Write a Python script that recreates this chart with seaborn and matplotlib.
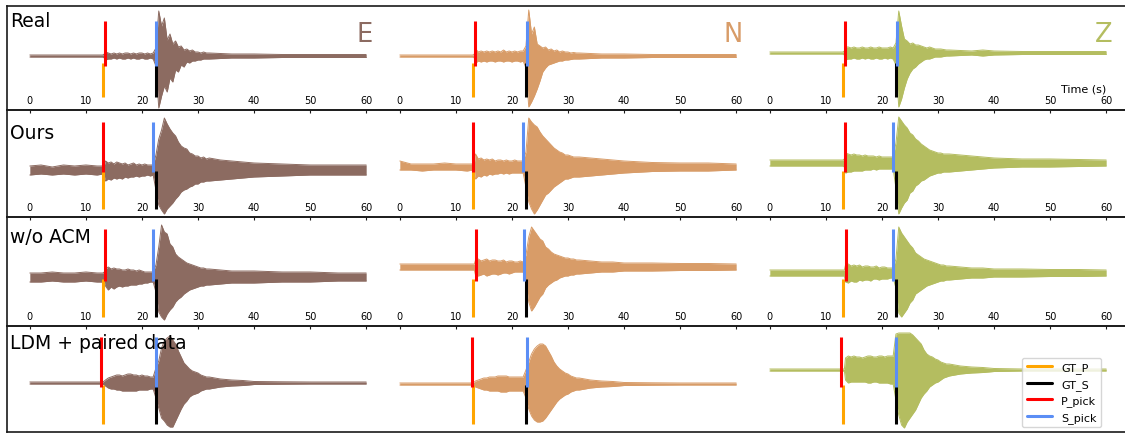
import numpy as np
import matplotlib
matplotlib.use("Agg")
import matplotlib.pyplot as plt
from matplotlib.lines import Line2D
import seaborn as sns

sns.set_style("white")
plt.rcParams["font.family"] = ["DejaVu Sans"]
plt.rcParams["text.color"] = "black"
plt.rcParams["xtick.color"] = "black"

# ---------------------------------------------------------------- data
rows = ["Real", "Ours", "w/o ACM", "LDM + paired data"]
components = ["E", "N", "Z"]
comp_colors = ["#8c6b61", "#d89c68", "#b4bd60"]
xticks = [0, 10, 20, 30, 40, 50, 60]

# time knots (s) of the amplitude envelopes
t_knots = [0, 2, 4, 6, 8, 10, 12, 13, 13.3,
           13.5, 14, 14.5, 15, 15.5, 16, 16.5, 17, 17.5, 18, 18.5, 19, 19.5,
           20, 20.5, 21, 21.5, 22, 22.5, 23, 23.5, 24, 24.5, 25, 25.5, 26,
           26.5, 27, 27.5, 28, 28.5, 29, 29.5, 30, 30.5, 31, 31.5, 32,
           34, 36, 38, 40, 45, 50, 55, 60]

# upper / lower envelope amplitudes, one pair per (row, component)
real_e_up = [1, 1, 1, 1, 1, 1, 1, 1, 2,
             4, 3, 2, 3, 2, 3, 2, 3, 3, 2, 3, 2, 3, 3, 2, 3, 2, 3,
             8, 45, 30, 38, 16, 22, 12, 15, 9, 10, 6, 7, 5, 6, 4, 4, 3, 4, 3, 3,
             2.5, 2, 2, 2, 1.5, 1.5, 1.5, 1.5]
real_e_lo = [1, 1, 1, 1, 1, 1, 1, 1, 2,
             4, 3, 3, 2, 3, 2, 3, 3, 2, 3, 2, 3, 3, 2, 3, 3, 2, 3,
             10, 52, 40, 30, 36, 22, 26, 14, 16, 9, 11, 6, 7, 5, 5, 4, 4, 3, 3, 3,
             2.5, 2, 2, 2, 1.5, 1.5, 1.5, 1.5]
real_n_up = [1, 1, 1, 1, 1, 1, 1, 1, 2,
             7, 4, 5, 4, 5, 4, 5, 4, 5, 4, 6, 4, 5, 4, 5, 4, 5, 5,
             10, 46, 22, 29, 12, 10, 8, 9, 6, 7, 5, 6, 4, 5, 4, 4, 3, 3.5, 3, 3,
             2.5, 2, 2, 2, 1.5, 1.5, 1.5, 1.5]
real_n_lo = [1, 1, 1, 1, 1, 1, 1, 1, 2,
             7, 5, 6, 5, 6, 5, 5, 6, 5, 5, 6, 5, 5, 6, 5, 5, 6, 5,
             12, 51, 46, 40, 33, 25, 16, 12, 9, 8, 7, 6, 5, 5, 4, 4, 3.5, 3, 3, 3,
             2.5, 2, 2, 2, 1.5, 1.5, 1.5, 1.5]
real_z_up = [1, 1, 1, 1, 1, 1, 1, 1, 2,
             6, 6, 5, 6, 5, 5, 6, 5, 5, 6, 5, 5, 6, 5, 5, 5, 6, 5,
             10, 42, 27, 14, 12, 9, 10, 8, 8, 7, 6, 5, 6, 5, 4, 4, 4, 3.5, 3, 3,
             2.5, 2, 3, 2, 1.5, 1.5, 1.5, 1.5]
real_z_lo = [1, 1, 1, 1, 1, 1, 1, 1, 2,
             7, 6, 6, 5, 6, 6, 5, 6, 5, 6, 6, 5, 6, 6, 5, 6, 5, 6,
             12, 54, 46, 35, 26, 20, 16, 14, 11, 9, 7, 6, 6, 5, 4, 4, 4, 3.5, 3, 3,
             2.5, 2, 3, 2, 1.5, 1.5, 1.5, 1.5]

ours_e_up = [4, 5, 3, 5, 4, 5, 4, 4, 5,
             9, 7, 8, 6, 8, 7, 6, 7, 5, 6, 7, 5, 6, 5, 6, 5, 5, 5,
             15, 31, 40, 52, 46, 41, 37, 34, 28, 24, 22, 21, 17, 16, 14, 14, 12, 13, 11, 12,
             10, 9, 8, 7, 6, 5, 5, 5]
ours_e_lo = [5, 4, 5, 4, 5, 4, 5, 4, 6,
             11, 9, 10, 8, 9, 8, 9, 7, 8, 7, 7, 6, 7, 6, 6, 5, 6, 5,
             20, 35, 40, 44, 39, 36, 33, 29, 26, 22, 20, 19, 17, 16, 14, 14, 12, 12, 11, 11,
             10, 9, 8, 7, 6, 5, 5, 5]
ours_n_up = [6, 3, 3, 3, 4, 3, 3, 3, 4,
             13, 8, 9, 7, 8, 7, 8, 6, 7, 7, 6, 7, 6, 6, 7, 6, 6, 6,
             15, 49, 45, 42, 40, 35, 31, 28, 25, 22, 19, 17, 15, 14, 12, 12, 11, 10, 10, 10,
             9, 8, 7, 6, 4.5, 4, 4, 3]
ours_n_lo = [3, 3, 4, 3, 3, 3, 4, 3, 3,
             12, 9, 10, 8, 9, 7, 8, 7, 7, 6, 7, 6, 7, 6, 6, 6, 6, 6,
             20, 35, 42, 47, 43, 38, 33, 28, 26, 23, 20, 18, 16, 14, 12, 12, 11, 10, 10, 10,
             9, 8, 7, 6, 4.5, 4, 4, 3]
ours_z_up = [3, 3, 3, 3, 3, 3, 3, 3, 4,
             10, 9, 8, 9, 8, 8, 7, 8, 7, 7, 7, 6, 7, 6, 6, 6, 6, 6,
             20, 46, 42, 38, 35, 30, 28, 24, 22, 19, 17, 15, 13, 12, 11, 10, 10, 9, 9, 9,
             8, 7, 6, 5, 4, 4, 3.5, 3]
ours_z_lo = [3, 3, 3, 3, 3, 3, 3, 3, 4,
             10, 9, 9, 8, 8, 8, 8, 7, 7, 7, 6, 7, 6, 6, 6, 6, 6, 6,
             25, 51, 45, 40, 37, 30, 28, 23, 21, 18, 17, 15, 13, 12, 11, 10, 10, 9, 9, 9,
             8, 7, 6, 5, 4, 4, 3.5, 3]

woacm_e_up = [4, 4, 5, 4, 4, 5, 4, 4, 5,
              8, 10, 8, 9, 8, 8, 7, 7, 8, 7, 7, 6, 7, 6, 5, 5, 5, 5,
              12, 30, 52, 45, 43, 33, 30, 23, 20, 18, 16, 14, 13, 12, 11, 10, 9, 9, 8, 8,
              7, 6, 6, 6, 5, 5, 4, 4]
woacm_e_lo = [5, 5, 4, 5, 5, 4, 5, 5, 5,
              9, 13, 10, 12, 10, 9, 10, 9, 9, 8, 8, 8, 7, 7, 6, 6, 5, 5,
              15, 35, 40, 43, 37, 33, 30, 25, 22, 20, 17, 15, 13, 12, 11, 10, 9, 9, 8, 8,
              7, 6, 6, 6, 5, 5, 4, 4]
woacm_n_up = [3, 3, 3, 3, 3, 3, 3, 3, 3,
              7, 8, 6, 7, 8, 6, 7, 7, 6, 6, 7, 5, 6, 6, 5, 5, 6, 5,
              12, 30, 40, 36, 32, 28, 26, 20, 18, 15, 13, 12, 11, 10, 9, 9, 8, 8, 7, 7,
              6, 5, 5, 4, 4, 3.5, 3.5, 3]
woacm_n_lo = [3, 3, 3, 3, 3, 3, 3, 3, 3,
              8, 9, 8, 7, 9, 8, 7, 7, 8, 7, 6, 6, 7, 6, 5, 5, 5, 5,
              15, 35, 44, 40, 35, 30, 27, 21, 18, 16, 14, 13, 11, 10, 9, 9, 8, 8, 7, 7,
              6, 5, 5, 4, 4, 3.5, 3.5, 3]
woacm_z_up = [3, 3, 3, 3, 3, 3, 3, 3, 3,
              8, 9, 7, 8, 7, 8, 6, 7, 7, 6, 6, 7, 5, 6, 6, 5, 5, 5,
              14, 46, 40, 36, 32, 28, 25, 20, 18, 16, 14, 13, 12, 11, 10, 9, 8, 8, 7, 7,
              6, 5, 5, 4, 4, 3.5, 3.5, 3]
woacm_z_lo = [3, 3, 3, 3, 3, 3, 3, 3, 3,
              9, 10, 8, 9, 9, 7, 8, 7, 7, 8, 6, 6, 7, 6, 6, 6, 5, 5,
              15, 40, 44, 40, 36, 30, 27, 21, 19, 17, 15, 13, 12, 11, 10, 9, 8, 8, 7, 7,
              6, 5, 5, 4, 4, 3.5, 3.5, 3]

ldm_e_up = [1, 1, 1, 1, 1, 1, 1, 1, 2,
            3, 5, 6, 7, 8, 8, 7, 8, 9, 9, 8, 8, 7, 8, 7, 7, 6, 6,
            15, 22, 35, 42, 45, 47, 43, 39, 32, 26, 20, 17, 14, 12, 11, 10, 8, 7, 6, 6,
            4, 3, 2.5, 1.5, 1.2, 1, 1, 1]
ldm_e_lo = [1, 1, 1, 1, 1, 1, 1, 1, 2,
            3, 5, 6, 6, 7, 7, 8, 8, 8, 8, 8, 8, 7, 7, 7, 7, 6, 6,
            15, 25, 35, 38, 42, 44, 44, 38, 32, 26, 21, 18, 14, 12, 11, 10, 8, 7, 6, 6,
            4, 3, 2.5, 1.5, 1.2, 1, 1, 1]
ldm_n_up = [1, 1, 1, 1, 1, 1, 1, 1, 2,
            3, 4, 5, 6, 6, 7, 7, 7, 8, 8, 8, 8, 7, 7, 7, 7, 7, 7,
            14, 22, 30, 35, 38, 40, 40, 38, 33, 28, 22, 18, 15, 13, 11, 10, 8, 7, 6, 6,
            4, 3, 2.5, 1.5, 1.2, 1, 1, 1]
ldm_n_lo = [1, 1, 1, 1, 1, 1, 1, 1, 2,
            3, 4, 5, 6, 6, 7, 7, 7, 7, 8, 8, 8, 7, 7, 7, 7, 7, 7,
            14, 25, 32, 36, 38, 38, 37, 34, 30, 26, 22, 18, 15, 13, 11, 10, 8, 7, 6, 6,
            4, 3, 2.5, 1.5, 1.2, 1, 1, 1]
ldm_z_up = [1, 1, 1, 1, 1, 1, 1, 1, 1,
            12, 14, 13, 14, 13, 13, 12, 13, 14, 14, 13, 13, 14, 14, 13, 14, 14, 14,
            36, 37, 37, 37, 37, 37, 35, 32, 29, 26, 20, 16, 14, 13, 11, 10, 8, 7, 6, 6,
            4, 3, 2.5, 1.5, 1, 1, 1, 1]
ldm_z_lo = [1, 1, 1, 1, 1, 1, 1, 1, 1,
            10, 13, 12, 12, 12, 12, 12, 12, 13, 13, 12, 12, 13, 13, 13, 13, 14, 14,
            30, 45, 55, 58, 52, 48, 44, 40, 34, 28, 24, 21, 17, 15, 13, 12, 10, 8, 7, 6,
            4, 3, 2.5, 1.5, 1, 1, 1, 1]

envelopes = [
    [(real_e_up, real_e_lo), (real_n_up, real_n_lo), (real_z_up, real_z_lo)],
    [(ours_e_up, ours_e_lo), (ours_n_up, ours_n_lo), (ours_z_up, ours_z_lo)],
    [(woacm_e_up, woacm_e_lo), (woacm_n_up, woacm_n_lo), (woacm_z_up, woacm_z_lo)],
    [(ldm_e_up, ldm_e_lo), (ldm_n_up, ldm_n_lo), (ldm_z_up, ldm_z_lo)],
]

# phase arrival times (s)
gt_p = 13.1
gt_s = 22.45
p_pick = [[13.35, 13.35, 13.45], [13.05, 13.05, 13.35],
          [13.45, 13.5, 13.5], [12.7, 12.8, 12.7]]
s_pick = [[22.55, 22.65, 22.6], [21.95, 21.95, 21.9],
          [22.05, 22.1, 21.9], [22.45, 22.6, 22.55]]

# ---------------------------------------------------------------- layout
W, H = 1125, 435
row_px = [(7, 111), (111, 218), (218, 327), (327, 433)]      # top, bottom
trace_center_px = [[57, 57, 54], [171, 168, 164], [278, 268, 274], [384, 385, 371]]
pick_span = [(0.423, 0.856), (0.421, 0.888), (0.413, 0.89), (0.425, 0.896)]
gt_span = [(0.125, 0.452), (0.075, 0.43), (0.083, 0.431), (0.075, 0.443)]
label_top_px = [12, 124, 228, 334]
col_left_px, col_w_px = 13, 370

C_GTP, C_GTS, C_PP, C_SP = "#ffa500", "black", "#ff0000", "#5b8ef5"
LW = 2.2

fig = plt.figure(figsize=(W / 100, H / 100), dpi=100)

for r, (top, bot) in enumerate(row_px):
    h = bot - top
    # frame around each row
    fr = fig.add_axes([7 / W, 1 - bot / H, (W - 7 + 20) / W, h / H], zorder=0)
    fr.set_xticks([])
    fr.set_yticks([])
    fr.patch.set_alpha(0)
    for sp in fr.spines.values():
        sp.set_color("#1a1a1a")
        sp.set_linewidth(1.2)

    for c in range(3):
        ax = fig.add_axes([(col_left_px + col_w_px * c) / W, 1 - bot / H,
                           col_w_px / W, h / H], zorder=1)
        ax.patch.set_alpha(0)
        up, lo = envelopes[r][c]
        up = np.asarray(up, float)
        lo = -np.asarray(lo, float)
        color = comp_colors[c]
        sns.lineplot(x=t_knots, y=up, ax=ax, color=color, lw=0.7)
        sns.lineplot(x=t_knots, y=lo, ax=ax, color=color, lw=0.7)
        ax.fill_between(t_knots, lo, up, color=color, lw=0)

        cy = trace_center_px[r][c]
        ax.set_xlim(-3, 63)
        ax.set_ylim(-(bot - cy), cy - top)

        tr = ax.get_xaxis_transform()
        ax.vlines(gt_p, *gt_span[r], transform=tr, color=C_GTP, lw=LW, zorder=3)
        ax.vlines(gt_s, *gt_span[r], transform=tr, color=C_GTS, lw=LW, zorder=3)
        ax.vlines(p_pick[r][c], *pick_span[r], transform=tr, color=C_PP, lw=LW, zorder=4)
        ax.vlines(s_pick[r][c], *pick_span[r], transform=tr, color=C_SP, lw=LW, zorder=4)

        for sp in ax.spines.values():
            sp.set_visible(False)
        ax.set_yticks([])
        ax.set_xlabel("")
        ax.set_ylabel("")
        if r < len(rows) - 1:
            ax.set_xticks(xticks)
            ax.set_xticklabels([str(v) for v in xticks])
            ax.tick_params(axis="x", direction="out", length=2.5, width=0.8,
                           labelsize=7, pad=-13.0, color="#1a1a1a",
                           labelcolor="black", bottom=True)
        else:
            ax.set_xticks([])

        if r == 0:
            ax.text(1 - 10 / col_w_px, (bot - 22) / h, components[c],
                    transform=ax.transAxes, ha="right", va="top",
                    fontsize=18.5, color=color)
        if r == 0 and c == 2:
            fig.text(1106 / W, 1 - 93 / H, "Time (s)", ha="right",
                     va="baseline", fontsize=8, color="black")
        if r == len(rows) - 1 and c == 2:
            handles = [Line2D([], [], color=C_GTP, lw=LW),
                       Line2D([], [], color=C_GTS, lw=LW),
                       Line2D([], [], color=C_PP, lw=LW),
                       Line2D([], [], color=C_SP, lw=LW)]
            ax.legend(handles, ["GT_P", "GT_S", "P_pick", "S_pick"],
                      loc="lower right", fontsize=8, handlelength=2.3,
                      bbox_to_anchor=(1101 / W, 1 - 428 / H),
                      bbox_transform=fig.transFigure, borderaxespad=0)

    fig.text(10 / W, 1 - label_top_px[r] / H, rows[r], ha="left", va="top",
             fontsize=13.5, zorder=10, color="black")

fig.savefig("out.png", dpi=100)
